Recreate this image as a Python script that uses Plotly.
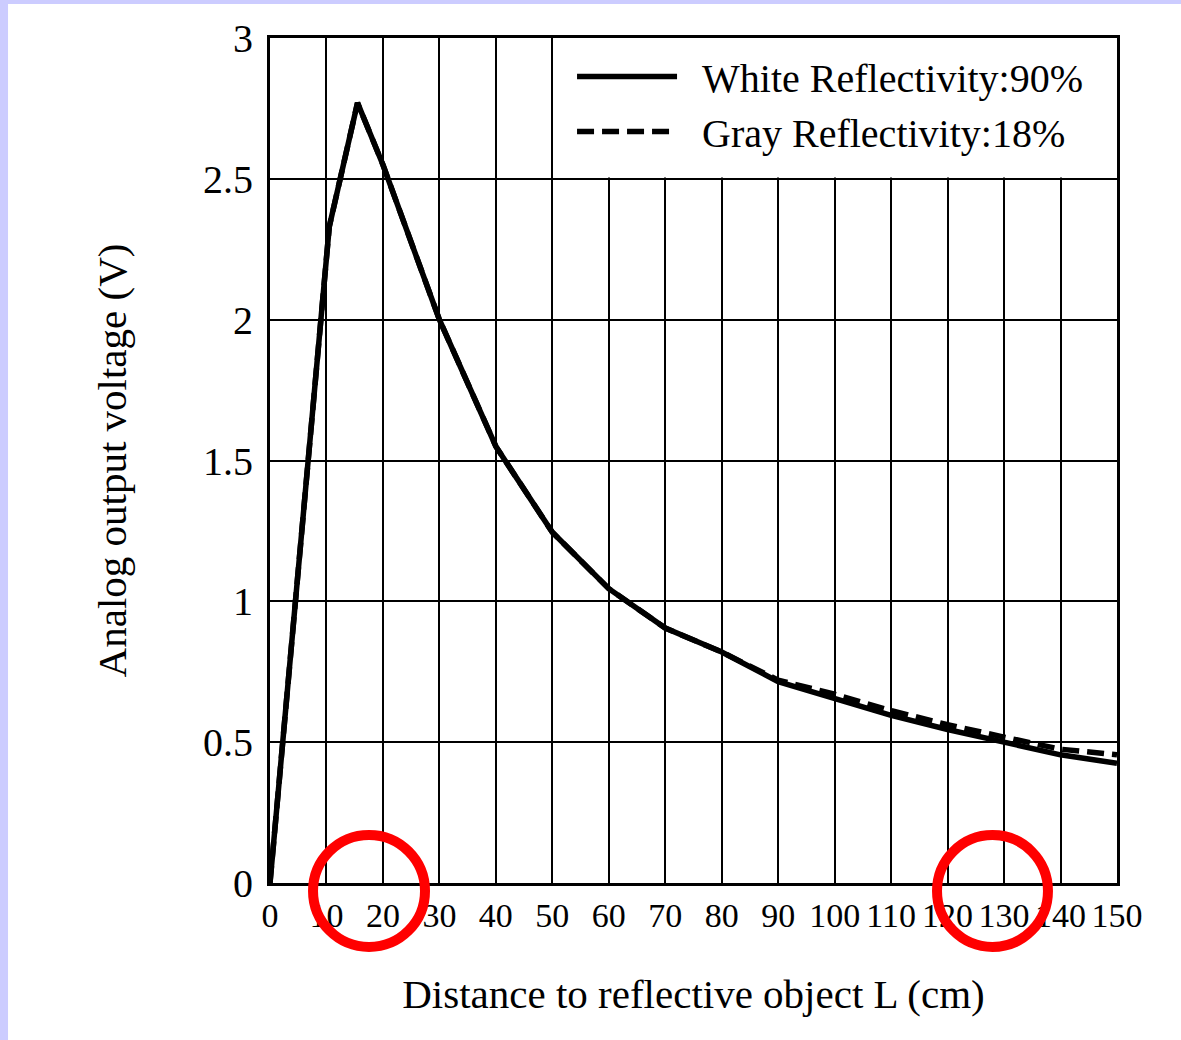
import plotly.graph_objects as go

# Data
distance_white = [0, 10.5, 15.5, 20, 30, 40, 50, 60, 70, 80, 90, 100, 110, 120, 130, 140, 150]
voltage_white = [0.0, 2.33, 2.77, 2.55, 2.0, 1.55, 1.245, 1.045, 0.905, 0.82, 0.715, 0.655, 0.595, 0.545, 0.5, 0.455, 0.425]

distance_gray = [0, 10.5, 15.5, 20, 30, 40, 50, 60, 70, 80, 90, 100, 110, 120, 130, 140, 150]
voltage_gray = [0.0, 2.33, 2.77, 2.55, 2.0, 1.55, 1.245, 1.045, 0.905, 0.82, 0.72, 0.67, 0.612, 0.562, 0.518, 0.475, 0.455]

x_ticks = list(range(0, 151, 10))
y_ticks = [0, 0.5, 1, 1.5, 2, 2.5, 3]
y_tick_labels = ["0", "0.5", "1", "1.5", "2", "2.5", "3"]

FONT = "Liberation Serif, Times New Roman, serif"
NB = "\u00a0\u00a0"

fig = go.Figure()
fig.add_trace(go.Scatter(
    x=distance_white, y=voltage_white, mode="lines",
    name=NB + "White Reflectivity:90%",
    line=dict(color="black", width=5.5),
))
fig.add_trace(go.Scatter(
    x=distance_gray, y=voltage_gray, mode="lines",
    name=NB + "Gray Reflectivity:18%",
    line=dict(color="black", width=5.5, dash="17px,8px"),
))

shapes = [
    # page background with lavender border strips on top/left
    dict(type="rect", xref="paper", yref="paper", x0=-0.3093, x1=1.3, y0=-0.4, y1=1.0402,
         fillcolor="white", line=dict(width=0), layer="below"),
    # white box behind legend (hides gridlines)
    dict(type="rect", xref="x", yref="y", x0=50.25, x1=150, y0=2.505, y1=3,
         fillcolor="white", line=dict(width=0), layer="between"),
    # red circles
    dict(type="circle", xref="paper", yref="paper", x0=0.0508, x1=0.183, y0=-0.0757, y1=0.0568,
         line=dict(color="#ff0000", width=10), layer="above"),
    dict(type="circle", xref="paper", yref="paper", x0=0.7875, x1=0.9185, y0=-0.0757, y1=0.0568,
         line=dict(color="#ff0000", width=10), layer="above"),
]

fig.update_layout(
    width=1181, height=1040,
    margin=dict(l=270, r=64, t=38, b=157),
    paper_bgcolor="#ccccff",
    plot_bgcolor="white",
    font=dict(family=FONT, color="black", size=36),
    showlegend=True,
    legend=dict(
        x=0.3566, y=0.993, xanchor="left", yanchor="top",
        bgcolor="rgba(0,0,0,0)", borderwidth=0,
        font=dict(family=FONT, size=40, color="black"),
        itemwidth=100,
    ),
    shapes=shapes,
)

fig.update_xaxes(
    range=[0, 150], tickvals=x_ticks, ticktext=[str(v) for v in x_ticks],
    showgrid=True, gridcolor="black", gridwidth=1.5,
    showline=True, linecolor="black", linewidth=3, mirror=True,
    zeroline=False, ticks="", ticklabelstandoff=0,
    tickfont=dict(family=FONT, size=34, color="black"),
    title=dict(text="Distance to reflective object L (cm)", standoff=47,
               font=dict(family=FONT, size=41, color="black")),
)
fig.update_yaxes(
    range=[0, 3], tickvals=y_ticks, ticktext=y_tick_labels,
    showgrid=True, gridcolor="black", gridwidth=1.5,
    showline=True, linecolor="black", linewidth=3, mirror=True,
    zeroline=False, ticks="", ticklabelstandoff=6,
    tickfont=dict(family=FONT, size=40, color="black"),
    title=dict(text="Analog output voltage (V)", standoff=64,
               font=dict(family=FONT, size=41, color="black")),
)

fig.write_html("out.html")
